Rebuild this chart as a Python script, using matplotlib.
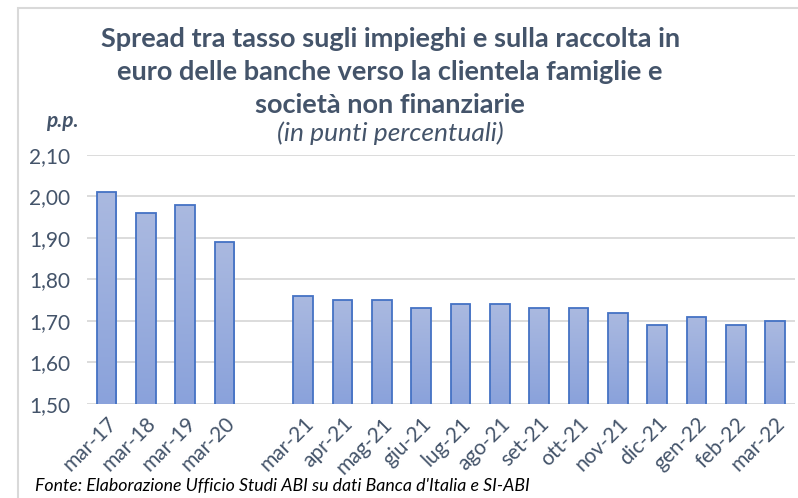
import numpy as np
import matplotlib.pyplot as plt
from matplotlib.patches import Rectangle
from matplotlib.colors import LinearSegmentedColormap

plt.rcParams['font.family'] = ['Lato', 'DejaVu Sans']

# dati
mesi = ["mar-17", "mar-18", "mar-19", "mar-20", "",
        "mar-21", "apr-21", "mag-21", "giu-21", "lug-21", "ago-21",
        "set-21", "ott-21", "nov-21", "dic-21", "gen-22", "feb-22", "mar-22"]
spread = [2.01, 1.96, 1.98, 1.89, np.nan,
          1.76, 1.75, 1.75, 1.73, 1.74, 1.74,
          1.73, 1.73, 1.72, 1.69, 1.71, 1.69, 1.70]
yticks = [1.50, 1.60, 1.70, 1.80, 1.90, 2.00, 2.10]

titolo = ("Spread tra tasso sugli impieghi e sulla raccolta in\n"
          "euro delle banche verso la clientela famiglie e\n"
          "società non finanziarie")
sottotitolo = "(in punti percentuali)"
fonte = "Fonte: Elaborazione Ufficio Studi ABI su dati Banca d'Italia e SI-ABI"

col_testo = "#44546A"

fig = plt.figure(figsize=(7.98, 4.98), dpi=100)
ax = fig.add_axes([0.109, 0.189, 0.887, 0.5])

x = np.arange(len(mesi))
bars = ax.bar(x, spread, width=0.5, color="none",
              edgecolor="#4472C4", linewidth=1.3, zorder=3)

# riempimento sfumato delle barre
grad = np.linspace(0, 1, 100).reshape(-1, 1)
cmap = LinearSegmentedColormap.from_list("g", ["#8AA2DB", "#AAB9E0"])
for b in bars:
    h = b.get_height()
    if np.isnan(h):
        continue
    x0 = b.get_x()
    im = ax.imshow(grad, cmap=cmap, aspect="auto", origin="lower",
                   extent=[x0, x0 + b.get_width(), 1.5, h], zorder=2)
    im.set_clip_path(b)

ax.set_xlim(-0.5, len(mesi) - 0.5)
ax.set_ylim(1.50, 2.10)
ax.set_yticks(yticks)
ax.set_yticklabels([("%.2f" % v).replace(".", ",") for v in yticks])
ax.set_xticks(x)
ax.set_xticklabels(mesi, rotation=45, ha="right", rotation_mode="anchor")
ax.tick_params(axis="both", length=0, labelsize=15, colors=col_testo)
ax.tick_params(axis="y", pad=12)
ax.tick_params(axis="x", pad=7)
ax.grid(axis="y", color="#D9D9D9", linewidth=1.3, zorder=0)
for s in ax.spines.values():
    s.set_visible(False)

fig.text(0.489, 0.855, titolo, ha="center", va="center", fontsize=19.5,
         fontweight="bold", color=col_testo, linespacing=1.45)
fig.text(0.489, 0.733, sottotitolo, ha="center", va="center", fontsize=19,
         style="italic", color=col_testo)
fig.text(0.078, 0.757, "p.p.", ha="center", va="center", fontsize=15,
         style="italic", fontweight="bold", color=col_testo)
fig.text(0.044, 0.025, fonte, ha="left", va="center", fontsize=12.8,
         style="italic", color="black")

# bordo del grafico
fig.patches.append(Rectangle((0.023, -0.05), 1.1, 1.034, transform=fig.transFigure,
                             fill=False, edgecolor="#D9D9D9", linewidth=1.5))

fig.savefig("out.png", dpi=100)
